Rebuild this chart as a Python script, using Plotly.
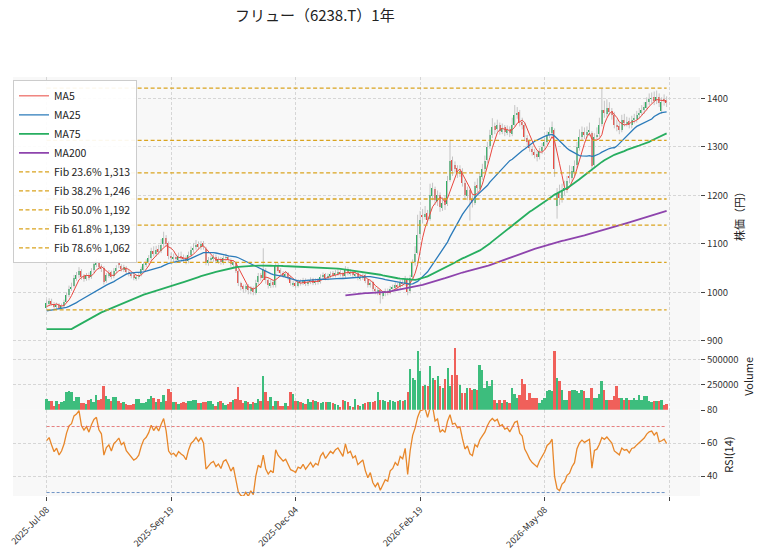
import plotly.graph_objects as go
import pandas as pd

# ---------------- data ----------------
# closes before the visible window (only used so the moving averages start where the picture shows)
prior_close = [895, 888, 882, 890, 886,
               975, 990, 985, 978, 982, 970, 988, 976, 984, 975,
               825, 815, 810, 820, 818, 812, 822, 825, 815,
               850, 860, 865, 872, 868, 875, 880, 870, 878, 882,
               880, 885, 878, 890, 884, 888, 882, 886, 890, 880,
               940, 955, 962, 958, 965, 960, 955, 968, 962, 970,
               958, 950, 955, 960, 952, 948, 956, 962, 958, 955,
               960, 958, 965, 962, 955, 960, 958,
               965, 972, 968, 975, 970, 966, 972, 968]

close = [978, 982, 976, 970, 974, 968, 972, 980, 995, 1008,
         1012, 1030, 1035, 1045, 1032, 1028, 1035, 1030, 1045, 1058,
         1064, 1052, 1048, 1022, 1035, 1040, 1032, 1045, 1050, 1056,
         1048, 1052, 1042, 1038, 1035, 1030, 1032, 1036, 1048, 1058,
         1062, 1070, 1085, 1080, 1088, 1084, 1098, 1112, 1100, 1075,
         1070, 1072, 1068, 1075, 1072, 1070, 1065, 1078, 1088, 1092,
         1098, 1094, 1100, 1095, 1062, 1066, 1070, 1072, 1065, 1068,
         1062, 1070, 1072, 1066, 1058, 1062, 1045, 1020, 1012, 1009,
         1013, 1004, 1009, 1001, 1020, 1034, 1030, 1048, 1025, 1015,
         1020, 1016, 1055, 1045, 1040, 1035, 1038, 1030, 1020, 1018,
         1015, 1022, 1020, 1025, 1018, 1022, 1026, 1020, 1024, 1022,
         1032, 1036, 1030, 1034, 1038, 1036, 1040, 1042, 1038, 1035,
         1048, 1040, 1042, 1036, 1038, 1030, 1032, 1034, 1024, 1016,
         1020, 1008, 1002, 1005, 994, 998, 1002, 1000, 1008, 1010,
         1015, 1012, 1020, 1018, 1028, 1000, 1030, 1060, 1080, 1118,
         1150, 1155, 1162, 1150, 1200, 1215, 1190, 1200, 1175, 1185,
         1180, 1230, 1270, 1250, 1255, 1245, 1250, 1225, 1200, 1210,
         1190, 1185, 1220, 1215, 1240, 1255, 1270, 1300, 1325, 1340,
         1335, 1345, 1332, 1338, 1330, 1335, 1328, 1345, 1365, 1370,
         1350, 1345, 1320, 1310, 1298, 1290, 1285, 1280, 1292, 1300,
         1310, 1325, 1330, 1340, 1255, 1205, 1195, 1210, 1215, 1230,
         1235, 1250, 1260, 1300, 1320, 1330, 1325, 1330, 1335, 1260,
         1320, 1325, 1345, 1375, 1370, 1380, 1372, 1365, 1345, 1340,
         1335, 1355, 1350, 1352, 1345, 1356, 1358, 1365, 1370, 1375,
         1382, 1392, 1398, 1400, 1395, 1402, 1390, 1392, 1395, 1390]

open_ = [968, 978, 983, 976, 970, 975, 968, 972, 981, 994,
         1009, 1014, 1028, 1036, 1044, 1033, 1027, 1036, 1031, 1046,
         1057, 1063, 1053, 1050, 1024, 1034, 1041, 1033, 1044, 1062,
         1055, 1047, 1051, 1043, 1037, 1036, 1029, 1031, 1037, 1047,
         1057, 1063, 1071, 1086, 1079, 1089, 1085, 1099, 1112, 1101,
         1076, 1069, 1073, 1067, 1076, 1073, 1071, 1064, 1077, 1087,
         1093, 1099, 1093, 1101, 1090, 1060, 1067, 1069, 1073, 1064,
         1069, 1061, 1071, 1073, 1067, 1057, 1061, 1044, 1019, 1013,
         1008, 1014, 1003, 1008, 999, 1021, 1035, 1030, 1046, 1026,
         1014, 1021, 1015, 1054, 1046, 1039, 1034, 1039, 1031, 1017,
         1019, 1014, 1023, 1019, 1026, 1017, 1021, 1027, 1019, 1025,
         1021, 1031, 1037, 1029, 1033, 1039, 1035, 1039, 1043, 1039,
         1034, 1049, 1039, 1043, 1035, 1039, 1029, 1031, 1035, 1025,
         1015, 1021, 1007, 1001, 1004, 993, 999, 1003, 999, 1007,
         1009, 1016, 1011, 1021, 1017, 1026, 1002, 1032, 1062, 1082,
         1120, 1160, 1156, 1164, 1152, 1198, 1214, 1188, 1201, 1174,
         1195, 1182, 1232, 1272, 1262, 1256, 1244, 1251, 1226, 1198,
         1211, 1192, 1184, 1222, 1214, 1238, 1254, 1272, 1302, 1324,
         1342, 1336, 1346, 1331, 1340, 1329, 1336, 1327, 1346, 1366,
         1372, 1352, 1346, 1318, 1311, 1296, 1289, 1286, 1279, 1291,
         1301, 1309, 1326, 1329, 1335, 1178, 1206, 1194, 1209, 1214,
         1240, 1236, 1249, 1262, 1298, 1321, 1331, 1324, 1331, 1328,
         1262, 1322, 1326, 1347, 1376, 1368, 1381, 1373, 1366, 1346,
         1342, 1334, 1356, 1349, 1353, 1344, 1357, 1357, 1366, 1371,
         1376, 1381, 1393, 1399, 1402, 1394, 1403, 1374, 1398, 1396]

high = [985, 988, 987, 980, 979, 978, 977, 985, 1000, 1014,
        1020, 1036, 1042, 1052, 1048, 1038, 1040, 1041, 1050, 1064,
        1070, 1068, 1058, 1054, 1040, 1046, 1045, 1050, 1056, 1066,
        1058, 1057, 1054, 1047, 1042, 1040, 1037, 1042, 1053, 1063,
        1068, 1077, 1092, 1095, 1096, 1098, 1110, 1125, 1118, 1105,
        1082, 1080, 1078, 1082, 1084, 1078, 1076, 1084, 1095, 1102,
        1108, 1105, 1106, 1106, 1094, 1073, 1076, 1079, 1078, 1074,
        1073, 1076, 1080, 1077, 1070, 1066, 1064, 1047, 1022, 1016,
        1017, 1017, 1013, 1012, 1026, 1040, 1040, 1091, 1050, 1030,
        1026, 1025, 1060, 1060, 1050, 1044, 1044, 1042, 1034, 1024,
        1023, 1027, 1027, 1030, 1029, 1027, 1031, 1030, 1029, 1029,
        1037, 1041, 1040, 1039, 1043, 1044, 1046, 1048, 1047, 1043,
        1054, 1052, 1048, 1046, 1044, 1042, 1037, 1039, 1038, 1028,
        1025, 1024, 1011, 1009, 1007, 1003, 1008, 1008, 1013, 1016,
        1021, 1020, 1026, 1027, 1034, 1030, 1036, 1068, 1095, 1160,
        1168, 1172, 1178, 1170, 1224, 1226, 1218, 1210, 1206, 1196,
        1200, 1240, 1314, 1280, 1270, 1262, 1262, 1256, 1232, 1218,
        1214, 1200, 1228, 1235, 1248, 1265, 1282, 1310, 1335, 1359,
        1350, 1356, 1350, 1348, 1345, 1344, 1342, 1360, 1386, 1382,
        1376, 1360, 1350, 1324, 1315, 1302, 1296, 1292, 1298, 1308,
        1318, 1332, 1340, 1352, 1338, 1215, 1222, 1224, 1230, 1240,
        1262, 1260, 1272, 1310, 1336, 1342, 1340, 1342, 1350, 1332,
        1328, 1340, 1360, 1421, 1395, 1398, 1392, 1380, 1372, 1356,
        1350, 1366, 1368, 1362, 1360, 1364, 1368, 1374, 1380, 1386,
        1392, 1402, 1410, 1412, 1414, 1416, 1410, 1402, 1408, 1404]

low = [964, 973, 972, 966, 966, 965, 965, 969, 978, 990,
       1003, 1010, 1024, 1030, 1026, 1022, 1024, 1025, 1028, 1040,
       1052, 1047, 1042, 1016, 1020, 1030, 1027, 1029, 1040, 1050,
       1043, 1042, 1037, 1033, 1029, 1025, 1024, 1027, 1033, 1043,
       1052, 1058, 1066, 1074, 1074, 1078, 1081, 1094, 1094, 1068,
       1063, 1062, 1060, 1062, 1066, 1063, 1058, 1060, 1072, 1082,
       1088, 1088, 1088, 1088, 1056, 1055, 1061, 1063, 1060, 1059,
       1057, 1057, 1065, 1061, 1053, 1052, 1040, 1013, 1004, 999,
       1001, 996, 996, 994, 995, 1016, 1024, 1026, 1018, 1008,
       1009, 1010, 1010, 1040, 1034, 1030, 1030, 1025, 1014, 1011,
       1009, 1010, 1014, 1015, 1013, 1013, 1017, 1015, 1015, 1016,
       1018, 1027, 1025, 1025, 1029, 1031, 1031, 1034, 1033, 1029,
       1030, 1035, 1034, 1031, 1030, 1025, 1024, 1026, 1019, 1010,
       1010, 1002, 996, 994, 977, 986, 992, 994, 996, 1002,
       1004, 1006, 1007, 1012, 1013, 994, 998, 1028, 1055, 1078,
       1112, 1142, 1150, 1140, 1148, 1190, 1180, 1178, 1166, 1168,
       1170, 1178, 1228, 1240, 1245, 1236, 1238, 1218, 1192, 1190,
       1148, 1175, 1180, 1206, 1210, 1232, 1248, 1266, 1296, 1318,
       1326, 1330, 1325, 1326, 1322, 1324, 1320, 1322, 1342, 1358,
       1342, 1336, 1312, 1302, 1290, 1282, 1276, 1270, 1274, 1285,
       1295, 1304, 1318, 1322, 1238, 1152, 1180, 1185, 1200, 1205,
       1225, 1228, 1240, 1255, 1292, 1312, 1316, 1318, 1322, 1250,
       1258, 1315, 1320, 1342, 1360, 1362, 1365, 1356, 1338, 1332,
       1326, 1330, 1342, 1342, 1338, 1338, 1348, 1350, 1358, 1364,
       1368, 1375, 1386, 1390, 1386, 1388, 1382, 1368, 1385, 1382]

volume_k = [105, 82, 89, 40, 82, 56, 72, 82, 171, 188,
            171, 89, 122, 122, 62, 62, 56, 99, 105, 72,
            148, 95, 102, 237, 138, 105, 89, 122, 122, 89,
            62, 72, 56, 49, 49, 56, 105, 105, 62, 62,
            72, 105, 138, 112, 72, 105, 72, 148, 89, 204,
            171, 79, 72, 56, 62, 72, 62, 82, 89, 99,
            99, 62, 62, 72, 72, 82, 82, 56, 40, 72,
            89, 62, 49, 56, 72, 95, 105, 220, 95, 62,
            89, 72, 56, 72, 62, 105, 82, 335, 171, 89,
            122, 40, 89, 89, 40, 40, 62, 40, 178, 155,
            89, 89, 72, 62, 56, 105, 72, 95, 82, 72,
            62, 79, 72, 79, 72, 62, 56, 49, 30, 95,
            82, 72, 40, 30, 105, 49, 40, 56, 62, 72,
            79, 72, 82, 171, 95, 95, 89, 72, 95, 82,
            72, 89, 99, 89, 95, 178, 400, 312, 290, 576,
            378, 230, 247, 230, 428, 312, 296, 329, 230, 214,
            300, 411, 230, 345, 608, 345, 247, 164, 164, 214,
            214, 197, 205, 197, 444, 395, 214, 280, 230, 296,
            99, 66, 99, 66, 99, 80, 66, 214, 150, 120,
            148, 306, 257, 99, 164, 115, 115, 115, 66, 99,
            120, 181, 197, 181, 582, 312, 280, 197, 99, 99,
            181, 197, 197, 181, 164, 197, 181, 115, 115, 214,
            115, 115, 150, 280, 197, 99, 99, 99, 131, 230,
            115, 115, 99, 115, 99, 99, 115, 99, 148, 99,
            131, 131, 82, 76, 82, 82, 89, 99, 49, 60]

tick_idx = [0, 50, 100, 150, 200, 250]
tick_labels = ["2025-Jul-08", "2025-Sep-19", "2025-Dec-04", "2026-Feb-19", "2026-May-08", ""]
ma_windows = [5, 25, 75, 200]
fib_ratios = [0.236, 0.382, 0.5, 0.618, 0.786]
title_text = "フリュー（6238.T）1年"

# ---------------- derived series ----------------
N = len(close)
P = len(prior_close)
idx = list(range(N))
full = pd.Series(prior_close + close, dtype=float)


def clean(s):
    return [None if pd.isna(v) else float(v) for v in s]


mas = {w: clean(full.rolling(w).mean().iloc[P:]) for w in ma_windows}
delta = full.diff()
gain = delta.clip(lower=0).ewm(alpha=1 / 14, adjust=False).mean()
loss = (-delta.clip(upper=0)).ewm(alpha=1 / 14, adjust=False).mean()
rsi = clean((100 - 100 / (1 + gain / loss)).iloc[P:])

UP_C, DN_C = "#2fae62", "#ec4b43"
UP_V, DN_V = "#3dbd7d", "#f0605a"
up = [c >= o for o, c in zip(open_, close)]

fig = go.Figure()

# candle wicks
wx, wy = [], []
for i in idx:
    wx += [i, i, None]
    wy += [low[i], high[i], None]
fig.add_trace(go.Scatter(x=wx, y=wy, mode="lines", line=dict(color="#c4c4c4", width=1),
                         showlegend=False, hoverinfo="skip", xaxis="x", yaxis="y"))
# candle bodies
fig.add_trace(go.Bar(x=idx, y=[max(abs(c - o), 0.8) for o, c in zip(open_, close)],
                     base=[min(o, c) for o, c in zip(open_, close)], width=0.6,
                     marker=dict(color=[UP_C if u else DN_C for u in up], line=dict(width=0)),
                     showlegend=False, xaxis="x", yaxis="y"))

ma_style = {5: ("#e8473f", 1.0), 25: ("#2b7bba", 1.3), 75: ("#27ae60", 1.8), 200: ("#8e44ad", 1.8)}
for w in ma_windows:
    col, lw = ma_style[w]
    fig.add_trace(go.Scatter(x=idx, y=mas[w], mode="lines", name=f"MA{w}",
                             line=dict(color=col, width=lw), xaxis="x", yaxis="y"))

fib_hi, fib_lo = max(high), min(low)
FIB_C = "#d9a31e"
for r in fib_ratios:
    lvl = fib_hi - r * (fib_hi - fib_lo)
    fig.add_trace(go.Scatter(x=[0, N - 1], y=[lvl, lvl], mode="lines",
                             name=f"Fib {r * 100:.1f}% {lvl:,.0f}",
                             line=dict(color=FIB_C, width=1.3, dash="4px,2.5px"),
                             xaxis="x", yaxis="y"))
for lvl in (fib_hi, fib_lo):
    fig.add_trace(go.Scatter(x=[0, N - 1], y=[lvl, lvl], mode="lines", showlegend=False,
                             line=dict(color=FIB_C, width=1.3, dash="4px,2.5px"),
                             xaxis="x", yaxis="y"))

# volume
fig.add_trace(go.Bar(x=idx, y=[v * 1000 for v in volume_k], width=0.8,
                     marker=dict(color=[UP_V if u else DN_V for u in up], line=dict(width=0)),
                     showlegend=False, xaxis="x2", yaxis="y2"))

# RSI
fig.add_trace(go.Scatter(x=idx, y=rsi, mode="lines", line=dict(color="#e8872a", width=1.3),
                         showlegend=False, xaxis="x3", yaxis="y3"))
fig.add_trace(go.Scatter(x=[0, N - 1], y=[70, 70], mode="lines", showlegend=False,
                         line=dict(color="#e06060", width=0.8, dash="3px,2px"), xaxis="x3", yaxis="y3"))
fig.add_trace(go.Scatter(x=[0, N - 1], y=[30, 30], mode="lines", showlegend=False,
                         line=dict(color="#4a78b8", width=0.8, dash="3px,2px"), xaxis="x3", yaxis="y3"))

GRID = "#d6d6d6"
xr = [-13.5, 262.4]
xcommon = dict(range=xr, tickvals=tick_idx, showgrid=True, gridcolor=GRID, gridwidth=0.8,
               griddash="3px,2px", zeroline=False, showline=False)
ycommon = dict(side="right", showgrid=True, gridcolor=GRID, gridwidth=0.8, griddash="3px,2px",
               zeroline=False, ticks="outside", ticklen=4, tickcolor="#444", showline=False,
               tickfont=dict(size=9.5, color="#333"))

fig.update_layout(
    width=764, height=558,
    margin=dict(l=8, r=64, t=77, b=62),
    paper_bgcolor="white", plot_bgcolor="#f8f8f8",
    font=dict(family="Noto Sans CJK JP, Noto Sans, sans-serif", size=10, color="#333"),
    barmode="overlay", bargap=0,
    title=dict(text=title_text, x=0.412, xanchor="center", y=0.971, yanchor="middle",
               font=dict(size=15, color="#222")),
    xaxis=dict(**xcommon, anchor="y", showticklabels=False, ticks=""),
    xaxis2=dict(**xcommon, anchor="y2", matches="x", showticklabels=False, ticks=""),
    xaxis3=dict(**xcommon, anchor="y3", matches="x", ticktext=tick_labels, tickangle=-45,
                ticks="outside", ticklen=4, tickcolor="#444", tickfont=dict(size=9, color="#333")),
    yaxis=dict(**ycommon, domain=[0.3647, 1], range=[895.3, 1443.9],
               tickvals=[900, 1000, 1100, 1200, 1300, 1400]),
    yaxis2=dict(**ycommon, domain=[0.2056, 0.3647], range=[0, 658000],
                tickvals=[250000, 500000], ticktext=["250000", "500000"]),
    yaxis3=dict(**ycommon, domain=[0, 0.2056], range=[27.9, 80.1], tickvals=[40, 60, 80]),
    legend=dict(x=0.0, y=0.992, xanchor="left", yanchor="top",
                bgcolor="rgba(255,255,255,0.92)", bordercolor="#cccccc", borderwidth=1,
                font=dict(size=10.5, color="#222"), tracegroupgap=0),
    showlegend=True,
)

lab_font = dict(size=11, color="#222")
PW = 692.0
fig.add_annotation(text="株価（円）", xref="paper", yref="paper", x=(739 - 8) / PW, y=0.675,
                   xanchor="center", yanchor="middle", textangle=-90, showarrow=False, font=lab_font)
fig.add_annotation(text="Volume", xref="paper", yref="paper", x=(749 - 8) / PW, y=0.286,
                   xanchor="center", yanchor="middle", textangle=-90, showarrow=False, font=lab_font)
fig.add_annotation(text="RSI(14)", xref="paper", yref="paper", x=(728 - 8) / PW, y=0.098,
                   xanchor="center", yanchor="middle", textangle=-90, showarrow=False, font=lab_font)

fig.write_html("out.html")
